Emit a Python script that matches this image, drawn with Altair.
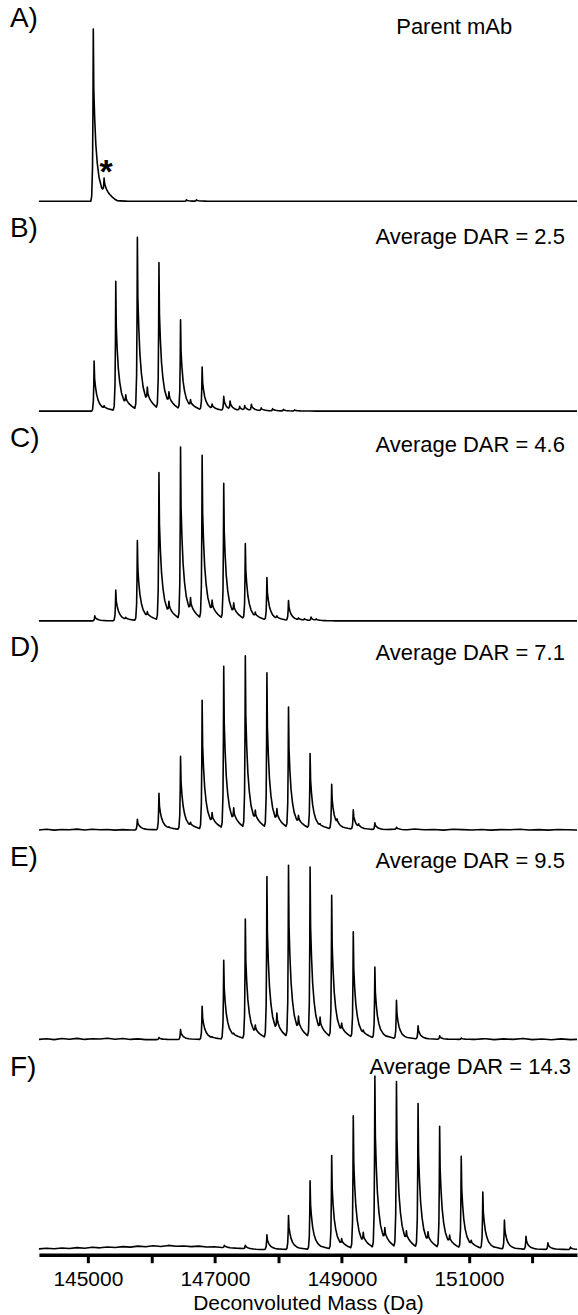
import altair as alt
import numpy as np
import pandas as pd

# ---------------- data ----------------
X_DOMAIN = [144230, 152703]
Y_DOMAIN = [-2.6, 116.2]
TICK_VALUES = [145000, 146000, 147000, 148000, 149000, 150000, 151000, 152000]

LETTERS = ["A)", "B)", "C)", "D)", "E)", "F)"]
NOTES = ["Parent mAb", "Average DAR = 2.5", "Average DAR = 4.6",
         "Average DAR = 7.1", "Average DAR = 9.5", "Average DAR = 14.3"]

# peak apex masses (Da) and relative intensities (% of tallest peak)
A_MASS = [145086, 145256, 146552, 146709]
A_INT = [100, 8.5, 0.9, 0.8]

B_MASS = [145099, 145256, 145440, 145597, 145780, 145937, 146120, 146277, 146460, 146617,
          146800, 146957, 147140, 147240, 147390, 147470, 147575, 147730, 147910, 148080, 148255]
B_INT = [29, 1.4, 75, 4.9, 100, 8, 85, 6.1, 52, 3.5,
         25, 2.6, 8.3, 4.8, 2.2, 2.6, 3.5, 1.6, 1.3, 0.9, 0.6]

C_MASS = [145110, 145440, 145597, 145780, 145937, 146120, 146277, 146460, 146617, 146800, 146957,
          147140, 147297, 147480, 147637, 147820, 147977, 148160, 148317, 148410, 148515, 148595]
C_INT = [2.9, 17.8, 1.0, 46.4, 2.6, 85.6, 6.3, 100, 7.5, 95, 6.4,
         78.8, 5.7, 44, 2.4, 24.7, 1.5, 11.6, 1.0, 0.8, 2.0, 0.8]

D_MASS = [145780, 146120, 146277, 146460, 146617, 146800, 146957, 147140, 147297, 147480, 147637,
          147820, 147977, 148160, 148317, 148500, 148657, 148840, 148925, 149180, 149265, 149520, 149860]
D_INT = [6.2, 21.3, 0.5, 42.5, 1.9, 74.8, 5.6, 94.1, 7.2, 100, 5.5,
         90.2, 7, 70.3, 4.2, 43.5, 1.0, 26.1, 2.3, 11.4, 1.7, 3.9, 1.2]

E_MASS = [146120, 146460, 146800, 146957, 147140, 147297, 147480, 147637, 147820, 147977, 148160,
          148317, 148500, 148657, 148840, 148997, 149180, 149337, 149520, 149860, 150200, 150540, 150880]
E_INT = [1.2, 5.8, 19.3, 0.5, 45.8, 1.0, 69.6, 4.3, 93.9, 9.7, 100,
         7.5, 99, 7, 82.6, 4.6, 61.7, 1.8, 41.4, 22.4, 7.7, 2.0, 0.8]

F_MASS = [147150, 147480, 147820, 148160, 148500, 148840, 148997, 149180, 149337, 149520, 149677, 149860,
          150017, 150200, 150357, 150540, 150697, 150880, 151037, 151220, 151560, 151900, 152245, 152600]
F_INT = [1.4, 2.0, 8.5, 19.8, 39.8, 54.4, 3.2, 77.1, 5.5, 100, 6.9, 96.5,
         5.2, 83.9, 5.4, 70.7, 4.2, 53.4, 2.3, 33, 16.9, 7.6, 3.9, 1.4]

# baseline noise (mass, % intensity)
D_NOISE_MASS = [144230, 144350, 144470, 144590, 144710, 144830, 144950, 145070, 145190, 145310,
                145430, 145550, 145670, 149700, 149850, 150000, 150150, 150300, 150450, 150600,
                150750, 150900, 151050, 151200, 151350, 151500, 151650, 151800, 151950, 152100,
                152250, 152400, 152550, 152703]
D_NOISE_INT = [0.4, 0.8, 0.3, 0.7, 0.5, 0.9, 0.4, 0.8, 0.5, 0.7,
               0.3, 0.6, 0.4, 0.5, 0.8, 0.4, 0.9, 0.5, 0.7, 0.3,
               0.8, 0.6, 0.4, 0.7, 0.3, 0.6, 0.5, 0.8, 0.4, 0.6,
               0.3, 0.7, 0.5, 0.4]

E_NOISE_MASS = [144230, 144350, 144470, 144590, 144710, 144830, 144950, 145070, 145190, 145310,
                145430, 145550, 145670, 145790, 145910, 151100, 151250, 151400, 151550, 151700,
                151850, 152000, 152150, 152300, 152450, 152600, 152703]
E_NOISE_INT = [0.6, 1.0, 0.5, 1.1, 0.7, 1.2, 0.6, 1.0, 0.8, 1.3,
               0.7, 1.1, 0.6, 0.9, 0.5, 0.6, 1.0, 0.5, 0.9, 0.6,
               1.1, 0.5, 0.8, 0.4, 0.9, 0.5, 0.6]

F_NOISE_MASS = [144230, 144350, 144470, 144590, 144710, 144830, 144950, 145070, 145190, 145310,
                145430, 145550, 145670, 145790, 145910, 146030, 146150, 146270, 146390, 146510,
                146630, 146750, 146870, 146990, 147110, 147230, 147350, 147470, 147590, 147710,
                148500, 150000, 151500, 152703]
F_NOISE_INT = [0.8, 1.2, 0.9, 1.3, 1.0, 1.5, 1.2, 1.7, 1.4, 1.9,
               1.6, 2.1, 1.8, 2.4, 2.0, 2.6, 2.2, 2.8, 2.3, 2.5,
               2.1, 2.4, 1.9, 2.0, 1.6, 1.3, 1.1, 0.9, 0.6, 0.4,
               0.3, 0.3, 0.3, 0.4]

NOTE_Y = [33, 33, 31, 29.5, 27.5, 24]
NOTE_X = [416, 432, 432, 432, 432, 432]

# line shape of one peak (offset in Da, fraction of apex)
PROFILE_DM = np.array([-40, -25, -12, -5, 0, 8, 22, 40, 63, 90, 130, 170, 250, 330, 380])
PROFILE_FR = np.array([0, 0.03, 0.2, 0.55, 1, 0.65, 0.48, 0.33, 0.22, 0.14, 0.08, 0.05, 0.03, 0.01, 0])


def spectrum(masses, ints, noise_m=None, noise_i=None):
    xs = [X_DOMAIN[0], X_DOMAIN[1]]
    for m in masses:
        xs.extend(m + PROFILE_DM)
    if noise_m:
        xs.extend(noise_m)
    xs = np.unique(np.clip(np.array(xs, dtype=float), X_DOMAIN[0], X_DOMAIN[1]))
    ys = np.zeros_like(xs)
    for m, h in zip(masses, ints):
        ys += h * np.interp(xs, m + PROFILE_DM, PROFILE_FR, left=0, right=0)
    if noise_m:
        ys += np.interp(xs, noise_m, noise_i)
    return pd.DataFrame({"mass": xs, "intensity": ys})


SPECTRA = [
    spectrum(A_MASS, A_INT),
    spectrum(B_MASS, B_INT),
    spectrum(C_MASS, C_INT),
    spectrum(D_MASS, D_INT, D_NOISE_MASS, D_NOISE_INT),
    spectrum(E_MASS, E_INT, E_NOISE_MASS, E_NOISE_INT),
    spectrum(F_MASS, F_INT, F_NOISE_MASS, F_NOISE_INT),
]

FONT = "Liberation Sans"
PANEL_W = 539
PANEL_H = 205

xscale = alt.Scale(domain=X_DOMAIN, nice=False, zero=False)
yscale = alt.Scale(domain=Y_DOMAIN, nice=False, zero=False)


def panel(i):
    last = i == len(SPECTRA) - 1
    if last:
        xaxis = alt.Axis(
            values=TICK_VALUES, format="d",
            labelExpr="datum.value % 2000 == 1000 ? datum.label : ''",
            labelFont=FONT, labelFontSize=21, labelColor="black", labelPadding=6,
            labelFlush=False, labelOverlap=False,
            tickSize=8, tickWidth=3, tickColor="black",
            domainWidth=3.5, domainColor="black", grid=False,
            title="Deconvoluted Mass (Da)", titleFont=FONT, titleFontSize=21,
            titleFontWeight="normal", titleColor="black", titlePadding=3,
        )
    else:
        xaxis = None
    line = alt.Chart(SPECTRA[i]).mark_line(
        color="black", strokeWidth=1.6, strokeJoin="round"
    ).encode(
        x=alt.X("mass:Q", scale=xscale, axis=xaxis, title="Deconvoluted Mass (Da)"),
        y=alt.Y("intensity:Q", scale=yscale, axis=None),
    )
    lab = alt.Chart(pd.DataFrame({"t": [LETTERS[i]]})).mark_text(
        align="left", baseline="alphabetic", font=FONT, fontSize=28, color="black"
    ).encode(x=alt.value(-29), y=alt.value(26), text="t:N")
    note = alt.Chart(pd.DataFrame({"t": [NOTES[i]]})).mark_text(
        align="center", baseline="alphabetic", font=FONT, fontSize=22, color="black"
    ).encode(x=alt.value(NOTE_X[i]), y=alt.value(NOTE_Y[i]), text="t:N")
    layers = [line, lab, note]
    if i == 0:
        star = alt.Chart(pd.DataFrame({"mass": [A_MASS[1]], "intensity": [14], "t": ["*"]})).mark_text(
            align="center", baseline="alphabetic", font=FONT, fontSize=34, fontWeight="bold",
            color="black", dx=2, dy=6
        ).encode(x=alt.X("mass:Q", scale=xscale), y=alt.Y("intensity:Q", scale=yscale), text="t:N")
        layers.append(star)
    return alt.layer(*layers).properties(width=PANEL_W, height=PANEL_H)


chart = alt.vconcat(*[panel(i) for i in range(len(SPECTRA))], spacing=5.15, bounds="flush").properties(
    padding={"left": 10, "top": 0, "right": 0, "bottom": 2}
).configure(font=FONT, background="white").configure_view(strokeWidth=0, stroke="transparent")

chart.save("out.html", embed_options={"renderer": "svg", "actions": False})
